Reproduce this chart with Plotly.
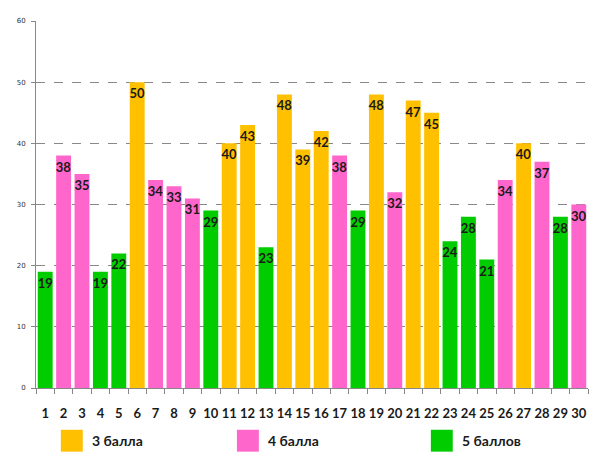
import plotly.graph_objects as go

####################################
students = list(range(1, 31))
scores = [19, 38, 35, 19, 22, 50, 34, 33, 31, 29,
          40, 43, 23, 48, 39, 42, 38, 29, 48, 32,
          47, 45, 24, 28, 21, 34, 40, 37, 28, 30]
grades = ['5', '4', '4', '5', '5', '3', '4', '4', '4', '5',
          '3', '3', '5', '3', '3', '3', '4', '5', '3', '4',
          '3', '3', '5', '5', '5', '4', '3', '4', '5', '4']
grade_names = {'3': '3 балла', '4': '4 балла', '5': '5 баллов'}
grade_colors = {'3': '#FFC000', '4': '#FF66CC', '5': '#00CC00'}
y_ticks = [0, 10, 20, 30, 40, 50, 60]

fig = go.Figure()
fig.add_trace(go.Bar(x=students, y=scores,
                     marker=dict(color=[grade_colors[g] for g in grades], line_width=0),
                     text=scores, textposition='inside', insidetextanchor='end',
                     textangle=0, constraintext='none',
                     textfont=dict(family='Lato', size=13, color='#1a1a1a', weight='bold'),
                     showlegend=False))

# legend drawn by hand: big squares with captions under the axis
legend_x = {'3': 0.045, '4': 0.364, '5': 0.7153}
for g in ['3', '4', '5']:
    x0 = legend_x[g]
    fig.add_shape(type='rect', xref='paper', yref='paper',
                  x0=x0, x1=x0 + 0.0397, y0=-0.1138, y1=-0.1734,
                  fillcolor=grade_colors[g], line_width=0)
    fig.add_annotation(xref='paper', yref='paper', x=x0 + 0.0397 + 0.0126, y=-0.1436,
                       text=grade_names[g], showarrow=False, xanchor='left', yanchor='middle',
                       font=dict(family='Lato', size=14, color='#1a1a1a', weight='bold'))

# page body has an 8px margin, so the figure is a bit smaller than the window
fig.update_layout(width=589, height=456, plot_bgcolor='white', paper_bgcolor='white',
                  margin={'l': 25, 'r': 9, 't': 11, 'b': 76},
                  bargap=0.19)
fig.update_xaxes(range=[0.5, 30.5], tickmode='array', tickvals=students,
                 ticktext=[str(s) for s in students], ticks='',
                 tickfont=dict(family='Lato', size=13, color='#1a1a1a', weight='bold'),
                 ticklabelstandoff=13,
                 showline=True, linecolor='#888888', linewidth=1, showgrid=False,
                 minor=dict(ticks='outside', tick0=0.5, dtick=1, ticklen=5,
                            tickcolor='#888888', showgrid=False))
fig.update_yaxes(range=[0, 60], tickvals=y_ticks, ticks='outside', ticklen=4,
                 tickcolor='#888888', ticklabelstandoff=4,
                 tickfont=dict(family='DejaVu Sans', size=7, color='#333333'),
                 showline=True, linecolor='#888888', linewidth=1,
                 showgrid=True, gridcolor='#888888', griddash='dash', gridwidth=1,
                 zeroline=False)

fig.write_html("out.html")
